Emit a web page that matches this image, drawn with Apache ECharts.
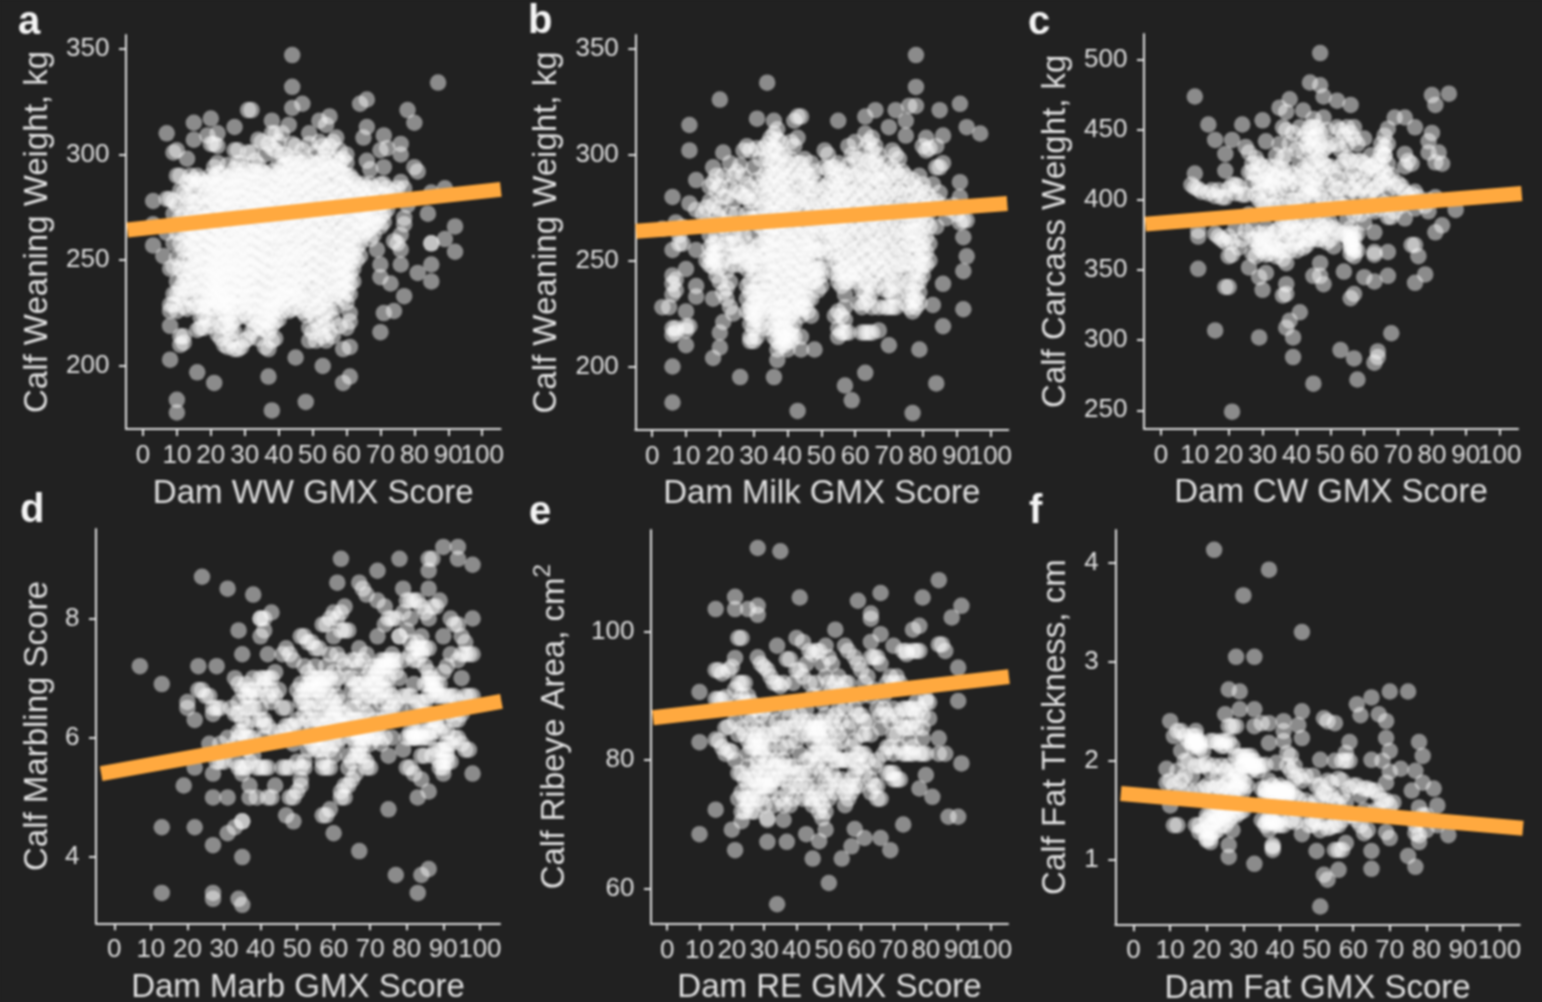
<!DOCTYPE html>
<html><head><meta charset="utf-8">
<style>html,body{margin:0;padding:0;background:#212121;overflow:hidden}#chart{width:1542px;height:1002px;filter:blur(.8px)}</style>
<script src="https://cdn.jsdelivr.net/npm/echarts@6/dist/echarts.min.js"></script>
</head><body><div id="chart"></div>
<script>
// Each row: x value followed by the y values read at that x
const panelA=[[3,278,267,257],[6,252],[7,310,279,263],[8,279,229,226,219,203,246],[9,301,278,272,258,247,234,229],[10,302,290,276,263,251,240,234,226,184,178],[11,290,283,270,258,246,237,233,214,210],[12,282,272,262,250,240,232,228,214,211],[13,298,287,276,268,256,246,236,227],[14,286,278,265,255,245,232],[15,315,307,288,277,268,258,248,236,228],[16,286,278,263,252,242,229,217,197],[17,288,272,260,249,238,228,218],[18,286,275,266,254,243,229,218],[19,309,287,270,259,248,236,228],[20,317,305,290,280,268,258,249,241,233,228,219],[21,305,294,284,272,262,252,243,235,227,192],[22,310,304,296,286,276,266,256,246,238,230,215],[23,291,280,270,259,250,240,232,225,213],[24,288,278,268,257,247,238,229,220,210],[25,295,284,274,262,252,244,234,228,218,209],[26,290,280,270,260,250,240,230,220,212],[27,313,302,293,283,272,262,252,243,233,228,216,208],[28,302,290,280,268,258,248,238,228,208],[29,296,285,275,265,255,246,237,229,209],[30,293,282,271,261,251,241,230,212],[31,321,301,290,279,268,258,248,238,228,213],[32,321,301,292,283,272,262,252,243,234,216],[33,297,287,276,266,256,246,234,218],[34,307,295,284,273,262,250,240,228,220,213],[35,306,292,281,270,260,250,238,228,218],[36,300,291,280,269,258,248,237,226,217,209],[37,305,290,279,268,258,247,236,226,216,208,195],[38,316,310,303,292,282,270,259,248,237,228,219,212,179],[39,310,302,289,278,267,257,246,236,227,221,213],[40,306,291,281,270,259,248,238,228,222],[41,310,300,289,278,268,256,246,234,226],[42,300,290,280,269,258,248,238,232],[43,314,298,287,276,265,254,244,232,226],[44,347,332,322,305,296,285,274,263,252,242,233,227],[45,304,293,282,271,260,249,238,228,204],[46,296,285,274,262,251,240,231],[47,324,302,291,280,268,258,248,238,226],[48,298,287,276,265,254,243,230,224,183],[49,310,305,294,283,272,261,250,239,226,218,212],[50,296,285,274,262,251,240,225,216],[51,301,290,278,267,256,244,234,222,212],[52,316,306,296,284,272,261,249,237,228,218],[53,304,292,281,270,259,248,236,224,214,200],[54,314,302,291,278,268,256,244,232,220,212],[55,318,304,293,282,270,258,246,234,226,216],[56,306,294,282,271,258,245,232,222,214],[57,308,298,285,274,262,250,240,228],[58,302,292,280,268,256,246,236,219],[59,298,286,276,264,252,242,232,208,192],[60,300,296,284,272,260,250,240,230,218],[61,290,278,266,254,244,234,225,221,209,195],[62,288,276,264,252,240],[63,286,274,262,250],[64,324,284,274,264,252],[65,308,286,276,268],[66,326,313,297,284,274,264],[67,293,280,270,260],[68,284,272,262],[69,279,268,255],[70,302,286,276,266,248,242,216],[71,309,294,286,277,268,225],[72,303,284,274],[73,280,239],[74,282,259,226],[75,284,258],[76,305,300,287,262,255,248],[77,284,270,267,233],[78,321,276],[80,315,294],[81,292,244],[84,272],[85,282,258,258,248,240],[87,334],[89,284,260],[92,266,254]];
const extraA=[[12,267,255,244],[13,280,262,240],[14,290,272,260,250,238],[15,283,272,263,253,242],[16,290,270,258,247,236],[17,280,266,254,243,233,223],[18,280,270,260,248,236,224],[19,282,276,264,254,242,231,222],[20,286,274,263,253,245,237],[21,289,278,267,257,247,239,231,222],[22,291,281,271,261,251,242,234],[23,285,275,264,254,245,236,228,219],[24,283,273,262,252,243,233,225],[25,289,279,268,257,248,239,231,223],[26,285,275,265,255,245,235,225,216],[27,288,278,267,257,247,238,222],[28,296,285,274,263,253,243,233,223],[29,290,280,270,260,250,241,233],[30,288,276,266,256,246,236,225],[31,284,274,263,253,243,233,223],[32,287,278,267,257,247,238,229,222],[33,292,281,271,261,251,240,228,224],[34,290,278,267,256,245,234],[35,286,276,265,255,244,233,223],[36,285,275,263,253,243,231,222],[37,284,274,263,252,242,231,221],[38,287,276,264,253,242,232,224],[39,283,272,262,251,241,231],[40,296,286,275,264,253,243,233],[41,294,283,273,262,251,240,230],[42,295,285,274,263,253,243,235],[43,292,281,270,259,249,238],[44,290,279,268,257,247,237],[45,298,287,276,265,254,243,233],[46,290,279,268,256,245,235],[47,296,285,274,263,253,243,232],[48,292,281,270,259,248,236],[49,288,277,266,255,244,232],[50,290,279,268,256,245,232],[51,295,284,272,261,250,239,228],[52,290,278,266,255,243,232],[53,298,286,275,264,253,242,230,219],[54,296,284,273,262,250,238,226],[55,298,287,276,264,252,240],[56,288,276,264,251,238],[57,292,279,268,256,245,234],[58,296,286,274,262,251,241],[59,291,281,270,258,247,237],[60,290,278,266,255,245,235],[61,284,272,260,249,239],[62,282,270,258,246],[63,280,268,256],[64,278,268,258],[65,281,272,262],[66,279,269],[67,286,275,265],[68,278,267],[70,281,271],[71,281,272],[72,278]];
const panelB=[[3,265,228],[5,228],[6,280,255,243,239,234,218,215,200,183],[7,268,241,236,218,216],[8,262,258],[9,266,258],[10,246,226,219,217,210],[11,314,302,277,219],[13,288,274,255,238,233],[15,272],[16,275,268,250],[17,285,278,262,256,248],[18,294,287,276,254,247,232,204],[19,290,283,272,258,250,243],[20,326,285,275,240,216,209],[21,301,290,280,235,221],[22,280,268,258,237,232],[23,296,285,272,252,240,228],[24,290,278,262,248,225],[25,292,283,272,258,252],[26,295,282,265,253,248,195],[27,302,290,280,262,254],[28,304,286,272,255,246,238,232,226],[29,302,284,270,254,240,228,220,214,212],[30,294,278,262,252,244,235,225,218,212],[31,317,303,288,270,256,244,232,222,214],[32,298,285,274,258,240,230,220],[33,303,290,276,265,252,236,228,218],[34,334,305,292,280,262,253,245],[35,308,296,284,272,262,250,240],[36,316,310,297,285,272,260,250,238,228,220,195],[37,312,302,290,278,266,255,243,232,222,212,203],[38,306,292,280,268,256,245,232,222,214],[39,300,288,276,264,252,240,228,218,210],[40,296,284,272,260,250,238,226,216,208],[41,306,290,278,264,252,242,230,218,212],[42,316,304,282,270,258,246,236,226,214],[43,318,308,296,278,262,250,238,228,179],[44,318,296,283,268,256,244,231,224,214,208],[45,298,286,272,258,248,238,228],[46,290,278,262,250,238,226],[47,296,284,272,262,254,240,224],[48,292,274,260,250,240,208],[49,278,264,246,236],[50,280,266,246,238],[51,302,284,270,258,250],[52,300,286,272,262],[53,288,276,264,254],[54,294,280,268,256,244,224],[55,316,296,284,272,260,248,240,226,218,214],[56,292,282,270,258,245,238,224,216],[57,290,278,266,252,240,228,216,191],[58,304,286,272,258,244,216],[59,300,282,268,254,242,184],[60,306,290,276,262,248,240],[61,298,284,272,256,244,230],[62,292,278,264,250,236,228,216],[63,318,310,296,282,268,254,240,230,216,197],[64,306,288,274,258,246,232,216],[65,308,296,284,270,256,242,228,216],[66,321,304,290,276,262,250,238],[67,300,288,272,258,246,228,217],[68,292,282,268,252,240],[69,296,280,264,250,236,228],[70,313,290,274,258,244,228,210],[71,302,286,270,254,240,228],[72,321,300,284,268,252,238,228],[73,298,282,264,248],[74,292,276,262,248],[75,316,309,290,272,256,244,230],[76,323,286,268,258,240,228],[77,288,274,264,252,236,226,178],[78,347,332,323,284,270,258,246,232,228],[79,290,276,262,250,240,230,208],[80,304,286,272,258,248],[81,308,302,282,268,254],[82,303,280,266,250],[83,286,276,229],[84,304,294,278,266,192],[85,321,294,282],[86,309,296,276,239,219],[87,270],[88,274],[89,276],[90,272],[91,324,287,280,268],[92,269,261,245,227],[93,313,269,252],[97,310]];
const extraB=[[17,252],[18,258,250],[19,262,254],[20,270,255,247],[21,266,250],[22,263,245],[23,258],[24,258,252],[28,280,258,250],[29,278,248,235,225],[30,270,248,230,222],[31,280,250,238,227],[32,266,252,235,225],[33,283,258,244,232],[34,298,286,274,268,258,249,240,232,226],[35,302,290,278,266,256,245,235,226,218],[36,303,291,278,266,255,244,233,224,214],[37,307,296,284,272,260,249,238,227,217,208],[38,300,286,274,262,250,238,228,218,210],[39,294,282,270,258,246,234,224,214],[40,290,278,266,255,244,232,222,212],[41,298,284,271,258,247,236,224,215],[42,292,276,264,252,241,231,220],[43,288,270,256,244,233],[44,290,276,262,250,238,227],[45,292,279,265,253,243,233],[46,284,270,256,244,232],[47,290,278,267,258,247,232],[48,284,267,255,245],[49,286,271,255,242],[50,273,256,243],[51,294,277,264,254],[52,293,279,267],[53,294,282,270,259],[54,287,274,262,250],[55,290,278,266,254,244],[56,287,276,264,251],[57,284,272,259,246,234,222],[58,295,279,265,251,240],[59,291,275,261,248],[60,298,283,269,255,244],[61,291,278,264,250],[62,285,271,257,243],[63,303,289,275,261,247,235],[64,297,281,266,252,239],[65,302,290,277,263,249,235],[66,297,283,269,256,244],[67,294,280,265,252],[68,287,275,260,246],[69,288,272,257,243],[70,282,266,251,236],[71,294,278,262,247,234],[72,292,276,260,245,233],[73,290,273,256,240],[74,284,269,255],[75,281,264,250,237],[76,277,263,249,234],[77,281,269,258,244,231],[78,277,264,252,239],[79,283,269,256,245,235],[80,279,265,253,243],[81,275,261,248],[82,273,258]];
const panelC=[[9,411],[10,474,419,409],[11,408,378,374,351],[12,406],[14,454,405],[15,407],[16,443,403,376,307],[17,407,374],[18,402,372],[19,433,421,402,370,338],[20,408,374,338,360],[21,443,411,361,370,249],[22,411,405,380],[23,410,366],[24,454,404,372],[25,438,404,378],[26,434,420,352,390],[27,426,412,380,362],[28,430,418,404,372,360],[29,426,412,400,376,366,345,302],[30,457,424,414,398,372,364,336],[31,442,420,408,396,376,366,348],[32,424,414,404,372,362],[33,418,410,396,376,366],[34,432,416,404,378,360],[35,466,440,422,408,380,364],[36,452,430,414,386,370,358,332],[37,463,450,432,408,382,372,355,340,333,309],[38,472,440,420,400,378,364,314],[39,448,418,400,382,368,302,288],[40,436,412,392,378,364],[41,452,426,408,384,372,320],[42,464,444,422,402,386,366],[43,448,420,405,380,368],[44,484,452,436,418,404,378],[45,452,438,414,402,376,346,269],[46,446,428,408,388,372],[47,505,482,440,420,404,382,372,355,346],[48,474,459,436,416,400,380,340],[49,438,412,394,370],[50,424,402,384,372],[51,420,410,380,367],[52,471,452,416,400,378],[53,450,424,408,376,293],[54,446,428,396,376,349],[55,452,430,414,386,374],[56,468,448,428,408,380,372,368,362,330],[57,452,444,420,390,376,366,360,333,287],[58,440,414,394,376,364,272],[59,428,408,390],[60,444,426,410,384,345],[61,422,402],[62,432,416,394],[63,425,408,392,377,363,361,342,284],[64,420,402,292,288],[65,434,414,394],[66,446,432,432,412,398],[67,451,426,408,388,363,346],[68,418,388,305],[69,459,410,392],[70,412,400],[71,410,396],[72,459,433,424,406,387],[73,428,402],[74,426,404,368],[75,452,406,394,368,341],[76,402,360],[78,347,396],[79,442,434,400,392],[80,475,448],[81,468,427,377,402],[82,434],[83,426,382],[85,476],[87,393]];
const extraC=[[27,420,372],[29,406,370],[31,414,380,361],[33,413,370],[34,424,398,366],[36,422,396,364],[37,416,376],[38,412,384],[40,400,370],[41,416,378],[42,434,394],[43,440,412,372],[44,444,426,410,372],[45,458,444,426,408,386],[46,452,436,416,378],[47,448,430,394],[48,426,376],[49,450,424,382],[50,440,394],[52,440,408],[53,436,396],[55,440,402],[56,418,376,370,366],[57,408,372,364],[58,428,404],[60,418],[62,424,406],[64,428,410],[65,440,424],[66,438,420],[67,440,416]];
const panelD=[[7,7.2],[13,6.9,4.5,3.4],[19,5.2],[20,6.6,6.5],[22,6.3,5.5,4.5],[23,7.2,6.8],[24,8.7,6.8],[25,6.7],[26,6.7,5.9],[27,6.5,6.4,5.4,5,4.2,3.4,3.3],[28,7.2,6.5,5.6],[29,6.5,5.6,5.9],[30,5.6],[31,8.5,6,5,4.4],[32,6.5,5.8],[33,7,6.4,5.9,5.6,4.5],[34,7.8,6.9,6.6,6.1,6,5.5,3.3],[35,7.4,6.8,6.3,6.1,5.5,5.4,4.6,4.6,4,3.2],[36,6.9,6.7,6,5.8],[37,6.8,6.7,5,5.2],[38,8.4,6.8,6.5,6,5.7],[39,6.7,5.5,5],[40,8,8,7.7,6.5,6.3,5.5],[41,8,7.8,7,6.3,6.2,5.5],[42,7.4,7,6.7,6.2,5,5.5],[43,8.1,7,6.8,6.6,5],[44,7.1,6.7,6.1,5.2],[45,6.8,6],[46,7.4,6.5,6.1,5.5],[47,7.5,6.5,6.2,5.5,4.7],[48,7.4,6.2,6,5.5,5],[49,7.3,6.2,5.9,5,4.6],[50,6.8,6.3,5.6,5.1],[51,7.7,6.9,6.2,5.5,5.3,5.2],[52,7.7,7.2,6.8,6.4,5.6,5.5],[53,7.6,7.1,6.8,6.3,5.8],[54,7.6,7,6.8,6.2,5.9],[55,7.5,7.2,6.8,6,5.8],[56,7.5,7,6.8,6.3,5.8],[57,7.9,7,6.9,6.4,5.8,5.6,5.5,4.7],[58,7.9,7,6.8,6.2,5.9,5.5,4.7],[59,8,7.4,7,6.5,6.1,5.8,5.5,4.8],[60,8.1,7.7,7.1,6.6,6.4,5.9,4.4],[61,8.6,8,7.4,7,6.5,6.3,5.9],[62,9,8.1,7.8,7.3,6.6,6.2,5,5.1],[63,8.2,7.8,7.2,6.4,6.2,5.2,5],[64,7.8,7,6.3,5.7,5.5,5.2],[65,7,6.8,6.3,6,5.6,5.3],[66,7.3,6.9,6.7,6.3,5.9,5.7,5.4],[67,8.6,7.5,6.9,6.3,6,5.7,4.1],[68,8.5,7.3,6.6,6.1,5.9,5.7],[69,8.4,7.4,7,6.4,6,5.6,5.5],[70,7.1,6.5,5.9,5.5],[71,7.2,6.9,6.3,6],[72,8.8,8.3,7.7,7.2,6.9,6.1],[73,7.3,6.8,6.3,5.9],[74,8.2,7.9,7.3,6.8,6.4,6],[75,8,7.3,7,6.8,6.4,5.7,4.8],[76,8,7.4,7.2,6.5,6],[77,8,7.3,7.1,6.6,3.7],[78,9,7.7,7.7,7,6.5],[79,8.5,8.1,7.3,6.7,5.8],[80,8.3,7.8,6.7,6,5.5],[81,8.3,8,7.6,6.7,6,5.5],[82,8.3,7.5,6.9,6.5,6,5.4],[83,8.3,7.6,7.3,6.6,6,5,3.4],[84,8.2,7.7,7.4,6.6,6.1,5.7,5.3,3.7],[85,8.1,7.5,7.2,6.6,6,5.7],[86,9,8.8,8.5,8,7.5,7.1,6.9,6.4,6.1,5.1,3.8],[87,9,8.2,7,6.9,6.3,5.7],[88,8.2,6.9,6.8,6.2,5.8],[89,8.3,6.7,6.1,5.6,5.5],[90,9.2,7.7,7.1,6.7,6.2,5.6,5.5],[91,7.2,6.7,6.1,5.9,5.7],[92,8,7.4,6.7,6.4,5.9,5.6],[93,7.9,6.7,6.3,6],[94,9.2,9,7.9,7.3,6.6,6.3,6],[95,7.7,7.4,7,6.4,5.9],[96,7.6,7.4,6.7,5.8],[97,7.4,6.7,5.8],[98,8.9,8,7.4,6.7,5.4]];
const extraD=[[34,6.4],[36,6.5,6.2,5.5],[37,6.5,6,5.6],[38,7,6.3],[40,7,6.8],[41,6.9,6],[51,6.6,6.7],[52,6.6,6],[53,6.9,6.5,6],[54,6.9,6.5],[55,7,6.6,6.3],[56,6.9,6.6,6],[57,6.7,6.2,6],[58,7.2,6.5,6.1],[59,6.7,6.3],[60,6.9,6.3,6.1,5.7],[61,6.7,6.1],[62,6.4,6],[65,7.3,6.5,6.1],[66,6.5,6.1],[67,7.2,6.7,6.1,5.8],[68,6.9,6.3,6],[69,6.8,6.2],[70,6.9,6.7,6.1],[71,7,6.7],[72,7.1,6.7,6],[73,7.2,7,6.6],[74,7.2,7],[75,7.2,6.6],[76,7.3,6.7],[81,7.4,6.1],[82,7.3,6.1,6],[83,7.5,6.1],[84,7.5,6],[85,6.9,6.4],[86,7,6.7,6.3,6],[87,6.8,6.1],[88,6.7,6.3],[89,6.9,5.8],[90,5.8,5.4],[91,5.8,5.6]];
const panelE=[[10,90.6,82.8,68.5],[15,103.5,94,89.5,83.2,72.3],[16,94,89.5,83],[17,93.5,89.4,82],[18,89.8,85,81],[19,94,88,85.2,81.5],[20,94.5,88,81.3,69.2],[21,105.4,103.5,95.9,91,86,80,66],[22,99,92,89,84,78,74],[23,99,92,90,85,78,75,72,70.5],[24,92,89,84,77,74,72],[25,103.5,90,87,83,79,76,73],[26,89,86,82,77,74,72],[27,88,84,82,78,75,72],[28,113,104,102.6,96,88,85,82,80,76],[29,95,87,83,81,78,74],[30,94.5,88,82,79,76,73],[31,94,86,80,78,76,71,70.7,67.3],[32,93,84,80,77,75],[33,92,88,84,79,77,73],[34,97.8,92,86,80,77,57.6],[35,112.5,91.5,85,82,78,74],[36,92,85,80,77,73,70.7],[37,95.7,88,82,78,75,67.3],[38,95.7,87,83,76,73],[39,92,85,79,74],[40,99,94,86,83,78,76],[41,105.3,94,87,81,78,76],[42,98.4,93,86,84,78,74],[43,95,88,85,80,76,68.5],[44,97,92,84,78,74],[45,96.5,90,85,81,76,73,64.7],[46,97,92,86,84,79,75],[47,97,90,85,84,80,74,72,67.4],[48,95,89,86,83,78,73,71],[49,97.8,93,87,83,79,75,72,69.2],[50,96,92,84,81,76,60.9],[51,95,91,86,81,78],[52,100.3,92,87,82,80,75],[53,93,88,84,80,76],[54,91,86,80,77,64.7],[55,97.8,92,88,80,75,73],[56,97,92,85,80,76,74],[57,90,86,82,77,75,66.6],[58,96,88,83,78,76,69.3],[59,104.8,95,87,81,79,76],[60,94,90,84,81],[61,92,86,84,81,78,67.9],[62,93,86,80],[63,102.8,102,98.4,96,90,84,77,75],[64,96,91,79,76],[65,96,88,80,76,74],[66,106,99.6,95,87,85,74,67.9],[67,90,88,81],[68,92,87,82,78],[69,93,86,82,78,66],[70,97.8,92,88,84,81,78,77],[71,93,87,84,77],[72,92,86,82,77],[73,97,88,85,81,70],[74,97,96.5,88,85,81],[75,88,85,81],[76,100.3,97,88,86,82,81],[77,97,89,85],[78,100.9,97,88,81,75.6],[79,105.3,83.4,87,81],[80,89.6,89,81,77.7],[81,86.5,89],[82,74.3],[84,108,98,83.4,81],[85,98],[86,97,81],[87,71.2],[88,102.2],[90,94.4,89.2,71.2],[91,104,79.5]];
const extraE=[[25,81,74],[27,83,77],[28,84,79,74],[29,82,76],[30,84,77],[32,82,76],[34,84,79],[36,79],[38,85,79],[44,86,80],[45,83,74],[46,85,81],[47,85,82],[48,81],[49,85,77],[50,82,74],[52,85,77],[54,83],[58,80],[60,87,79],[75,83],[77,87],[79,85]];
const panelF=[[9,1.92,1.78],[10,2.4,1.8,1.55],[11,2.25,1.75,1.35],[12,2.3,1.9,1.35],[13,2.3,2.1,1.7,1.8],[14,2.25,2,1.85],[15,2.2,2,1.7],[16,2.25,2.15,1.85],[17,2.3,2.18,2.15,1.95,1.7,1.35],[18,2.2,2.12,1.95,1.35,1.28],[19,2.1,1.95,1.72,1.3],[20,1.97,1.75,1.4,1.22,1.2],[21,2.2,1.9,1.72,1.45,1.22,1.18],[22,4.13,2.2,1.95,1.72,1.45,1.28],[23,2.18,1.85,1.75,1.45,1.3],[24,2.2,1.95,1.72,1.42,1.35],[25,2.47,2.2,2.15,1.9,1.65,1.45,1.35],[26,2.72,2.35,2.2,1.95,1.7,1.48,1.15,1.03],[27,2.35,2.15,1.9,1.68,1.45,1.3],[28,3.05,2.35,2.05,1.85,1.72,1.45],[29,2.7,2.52,2.05,1.85,1.72,1.48],[30,3.67,2.05,1.95,1.78,1.7,1.5],[31,2,1.75],[32,2,1.95],[33,3.05,2.52,2.35,2,1.93,0.96],[34,1.95,1.9],[35,2.38,1.95,1.72,1.4],[36,1.96,1.72,1.65,1.35],[37,3.93,2.38,2.18,1.8,1.68,1.42,1.3],[38,1.75,1.68,1.4,1.15,1.13,1.1],[39,1.98,1.7,1.65,1.35],[40,1.75,1.68,1.4],[41,2.4,2.2,2.3,1.72,1.68,1.35],[42,2.08,1.95,1.68,1.65,1.5],[43,2.05,1.9,1.68,1.4],[44,1.95,1.82,1.65,1.38],[45,2.36,1.85,1.62,1.4],[46,3.3,2.5,2.23,1.8,1.26],[47,1.85,1.6],[48,1.55,1.35],[49,1.85,1.4,1.35],[50,1.75,1.6,1.38,1.09],[51,2.01,1.75,1.6,1.3,0.53],[52,2.43,1.68,1.38,0.85],[53,2.4,1.8,1.65,1.32,0.8],[54,1.78,1.65,1.33],[55,2.38,2,1.6,1.35,1.1],[56,1.82,1.55,1.35,1.1,0.9],[57,2,1.8,1.65,1.4,1.1],[58,2.08,2,1.58,1.17],[59,2.19,2,1.72,1.45],[60,1.75,1.45],[61,2.57,1.75,1.4],[62,2.46,1.65,1.35],[63,1.72,1.27,1.5],[64,1.72,1.3],[65,2.64,2.01,1.7,1.09,0.91],[66,1.7,1.5],[67,2.47,1.65,1.5],[68,1.6,2],[69,2.4,2.23,1.78,1.28,1.6],[70,2.7,2.1,1.89,1.55,1.22],[71,1.58],[73,1.92],[75,2.7,1.04],[76,1.7],[77,1.9,1.27,0.93,1.35],[78,2.19,1.53,1.18,1.25,1.4],[79,2.05,1.78,1.45],[80,1.45,1.3],[82,1.72],[83,1.55,1.35],[86,1.25]];
const extraF=[[16,2.2,2.18],[17,2.2,2.25],[18,2.18,2.15],[20,1.45,1.3],[21,1.35,1.28],[22,1.38],[23,1.4,1.55],[24,1.5,2.15],[25,1.5,1.75],[26,1.4,1.8],[27,1.55,1.8],[28,1.55,1.75,1.9],[29,1.55,1.8],[30,1.95,2],[31,1.95,2.05],[32,1.9,2.05],[33,1.95],[36,1.7,1.38],[37,1.38],[38,1.65,1.38],[39,1.72,1.38],[40,1.7,1.35],[41,1.65],[42,1.72,1.7]];

const lineA=[[-4.6,264.3],[105.5,283.5]];
const lineB=[[-4.8,263.8],[105,276.9]];
const lineC=[[-4.6,382.9],[106.5,404.8]];
const lineD=[[-3.6,5.4],[105.9,6.61]];
const lineE=[[-4.4,86.6],[105.7,93]];
const lineF=[[-3.5,1.67],[106.4,1.32]];

const xTicks=[0,10,20,30,40,50,60,70,80,90,100];
const xLabelsMain=[0,10,20,30,40,50,60,70,80,90];
const xLabelsLast=[100];
const yTicksA=[200,250,300,350];
const yTicksB=[200,250,300,350];
const yTicksC=[250,300,350,400,450,500];
const yTicksD=[4,6,8];
const yTicksE=[60,80,100];
const yTicksF=[1,2,3,4];
const letters=['a','b','c','d','e','f'];
const xTitles=['Dam WW GMX Score','Dam Milk GMX Score','Dam CW GMX Score','Dam Marb GMX Score','Dam RE GMX Score','Dam Fat GMX Score'];
const yTitles=['Calf Weaning Weight, kg','Calf Weaning Weight, kg','Calf Carcass Weight, kg','Calf Marbling Score','{t|Calf Ribeye Area, cm}{s|2}','Calf Fat Thickness, cm'];

const FONT='"Liberation Sans",Arial,sans-serif', TXT='#e0e0e0', BG='#212121';
const layout=[
 {l:126,r:500.5,t:35,b:429,xmax:105.4,ymin:170.2,ymax:356.5,gap:72,xgap:48,lx:18,ly:3},
 {l:635.3,r:1008.3,t:35,b:430,xmax:105.3,ymin:170,ymax:356.5,gap:72,xgap:47,lx:528,ly:2},
 {l:1144,r:1518,t:34,b:428.5,xmax:105.4,ymin:237,ymax:518.6,gap:72,xgap:48,lx:1028,ly:3},
 {l:96,r:500,t:529,b:923.3,xmax:105.5,ymin:2.89,ymax:9.5,gap:42,xgap:48,lx:20,ly:491},
 {l:651,r:1008,t:530,b:923.5,xmax:105.4,ymin:54.6,ymax:115.8,gap:80,xgap:48,lx:529,ly:493},
 {l:1115.3,r:1519.7,t:530,b:924.3,xmax:105.5,ymin:0.35,ymax:4.33,gap:43,xgap:48,lx:1029,ly:492}
];
const tables=[panelA.concat(extraA),panelB.concat(extraB),panelC.concat(extraC),panelD.concat(extraD),panelE.concat(extraE),panelF.concat(extraF)];
const lines=[lineA,lineB,lineC,lineD,lineE,lineF];
const yTicks=[yTicksA,yTicksB,yTicksC,yTicksD,yTicksE,yTicksF];
const flat=t=>t.flatMap(r=>r.slice(1).map(y=>[r[0],y]));
const axisCommon={axisLine:{show:true,onZero:false,lineStyle:{color:TXT,width:2}},splitLine:{show:false},
  axisTick:{show:true,length:7,lineStyle:{color:TXT,width:2}}};
const xLabel={color:TXT,fontFamily:FONT,fontSize:26,margin:14,hideOverlap:false};

const option={backgroundColor:BG,animation:false,
 title:letters.map((s,i)=>({text:s,left:layout[i].lx,top:layout[i].ly,padding:0,textStyle:{color:'#f4f4f4',fontFamily:FONT,fontWeight:'bold',fontSize:40}})),
 grid:layout.map(p=>({left:p.l,top:p.t,width:p.r-p.l,height:p.b-p.t,outerBoundsMode:'none'})),
 xAxis:[
  ...layout.map((p,i)=>({type:'value',gridIndex:i,position:'bottom',min:-5,max:p.xmax,...axisCommon,
   axisTick:{...axisCommon.axisTick,customValues:xTicks},
   axisLabel:{...xLabel,customValues:xLabelsMain},
   name:xTitles[i],nameLocation:'middle',nameGap:p.xgap,nameTextStyle:{color:TXT,fontFamily:FONT,fontSize:33}})),
  ...layout.map((p,i)=>({type:'value',gridIndex:i,position:'bottom',min:-5,max:p.xmax,splitLine:{show:false},
   axisLine:{show:false,onZero:false},axisTick:{show:false},
   axisLabel:{...xLabel,customValues:xLabelsLast}}))
 ],
 yAxis:layout.map((p,i)=>({type:'value',gridIndex:i,min:p.ymin,max:p.ymax,...axisCommon,
   axisTick:{...axisCommon.axisTick,customValues:yTicks[i]},
   axisLabel:{customValues:yTicks[i],color:TXT,fontFamily:FONT,fontSize:26,margin:16.5,hideOverlap:false},
   name:yTitles[i],nameLocation:'middle',nameRotate:90,nameGap:p.gap,
   nameTextStyle:{color:TXT,fontFamily:FONT,fontSize:33,rich:{t:{color:TXT,fontFamily:FONT,fontSize:33,verticalAlign:'bottom'},s:{color:TXT,fontFamily:FONT,fontSize:24,verticalAlign:'top',padding:[0,0,16,0]}}}})),
 series:[
  ...tables.map((t,i)=>({type:'scatter',xAxisIndex:i,yAxisIndex:i,data:flat(t),symbol:'circle',symbolSize:16.5,silent:true,
    itemStyle:{color:'#ffffff',opacity:0.48},z:2})),
  ...lines.map((d,i)=>({type:'line',xAxisIndex:i,yAxisIndex:i,data:d,symbol:'none',silent:true,clip:false,
    lineStyle:{color:'#ffa93f',width:15,cap:'butt'},z:5}))
 ]};
echarts.init(document.getElementById('chart')).setOption(option);
</script></body></html>
